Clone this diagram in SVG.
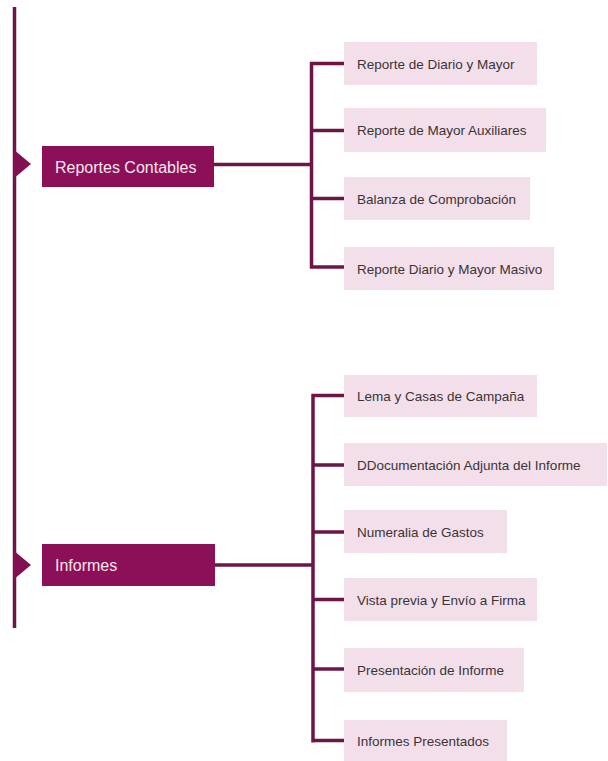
<svg xmlns="http://www.w3.org/2000/svg" width="608" height="761" viewBox="0 0 608 761">
<style>
.main{fill:#8c1057}
.mt{font-family:"Liberation Sans",Arial,sans-serif;font-size:16px;fill:#f7e6ee}
.leaf{fill:#f3dfe9}
.lt{font-family:"Liberation Sans",Arial,sans-serif;font-size:13.5px;fill:#3a3438}
.ln{stroke:#6e1446;stroke-width:3.5;fill:none}
.tri{fill:#821050}
</style>
<rect width="608" height="761" fill="#ffffff"/>
<g id="connectors">
<line class="ln" x1="14.5" y1="7" x2="14.5" y2="628"/>
<polygon class="tri" points="13,149 31,164 13,179"/>
<polygon class="tri" points="13,550 31,565 13,580"/>
<path class="ln" d="M214 164.5 H311.5 M311.5 62 V268.5 M310 63.5 H344 M310 130.5 H344 M310 198.5 H344 M310 267 H344"/>
<path class="ln" d="M215 565 H313 M313 394 V742.5 M311.5 395.5 H344 M311.5 465 H344 M311.5 532 H344 M311.5 599.5 H344 M311.5 669 H344 M311.5 740.5 H344"/>
</g>
<g id="reportes-contables"><rect class="main" x="42" y="146" width="172" height="41"/><text class="mt" x="55" y="172.5">Reportes Contables</text></g>
<g id="informes"><rect class="main" x="42" y="544" width="173" height="42"/><text class="mt" x="55" y="571">Informes</text></g>
<g id="rc1"><rect class="leaf" x="344" y="42" width="193" height="43"/><text class="lt" x="357" y="68.5">Reporte de Diario y Mayor</text></g>
<g id="rc2"><rect class="leaf" x="344" y="108" width="202" height="44"/><text class="lt" x="357" y="135">Reporte de Mayor Auxiliares</text></g>
<g id="rc3"><rect class="leaf" x="344" y="177" width="186" height="43"/><text class="lt" x="357" y="203.5">Balanza de Comprobación</text></g>
<g id="rc4"><rect class="leaf" x="344" y="247" width="210" height="43"/><text class="lt" x="357" y="273.5">Reporte Diario y Mayor Masivo</text></g>
<g id="in1"><rect class="leaf" x="344" y="375" width="193" height="42"/><text class="lt" x="357" y="401">Lema y Casas de Campaña</text></g>
<g id="in2"><rect class="leaf" x="344" y="443" width="263" height="43"/><text class="lt" x="357" y="469.5">DDocumentación Adjunta del Informe</text></g>
<g id="in3"><rect class="leaf" x="344" y="510" width="163" height="43"/><text class="lt" x="357" y="536.5">Numeralia de Gastos</text></g>
<g id="in4"><rect class="leaf" x="344" y="578" width="193" height="43"/><text class="lt" x="357" y="604.5">Vista previa y Envío a Firma</text></g>
<g id="in5"><rect class="leaf" x="344" y="648" width="180" height="44"/><text class="lt" x="357" y="674.5">Presentación de Informe</text></g>
<g id="in6"><rect class="leaf" x="344" y="720" width="163" height="42"/><text class="lt" x="357" y="746">Informes Presentados</text></g>
</svg>
